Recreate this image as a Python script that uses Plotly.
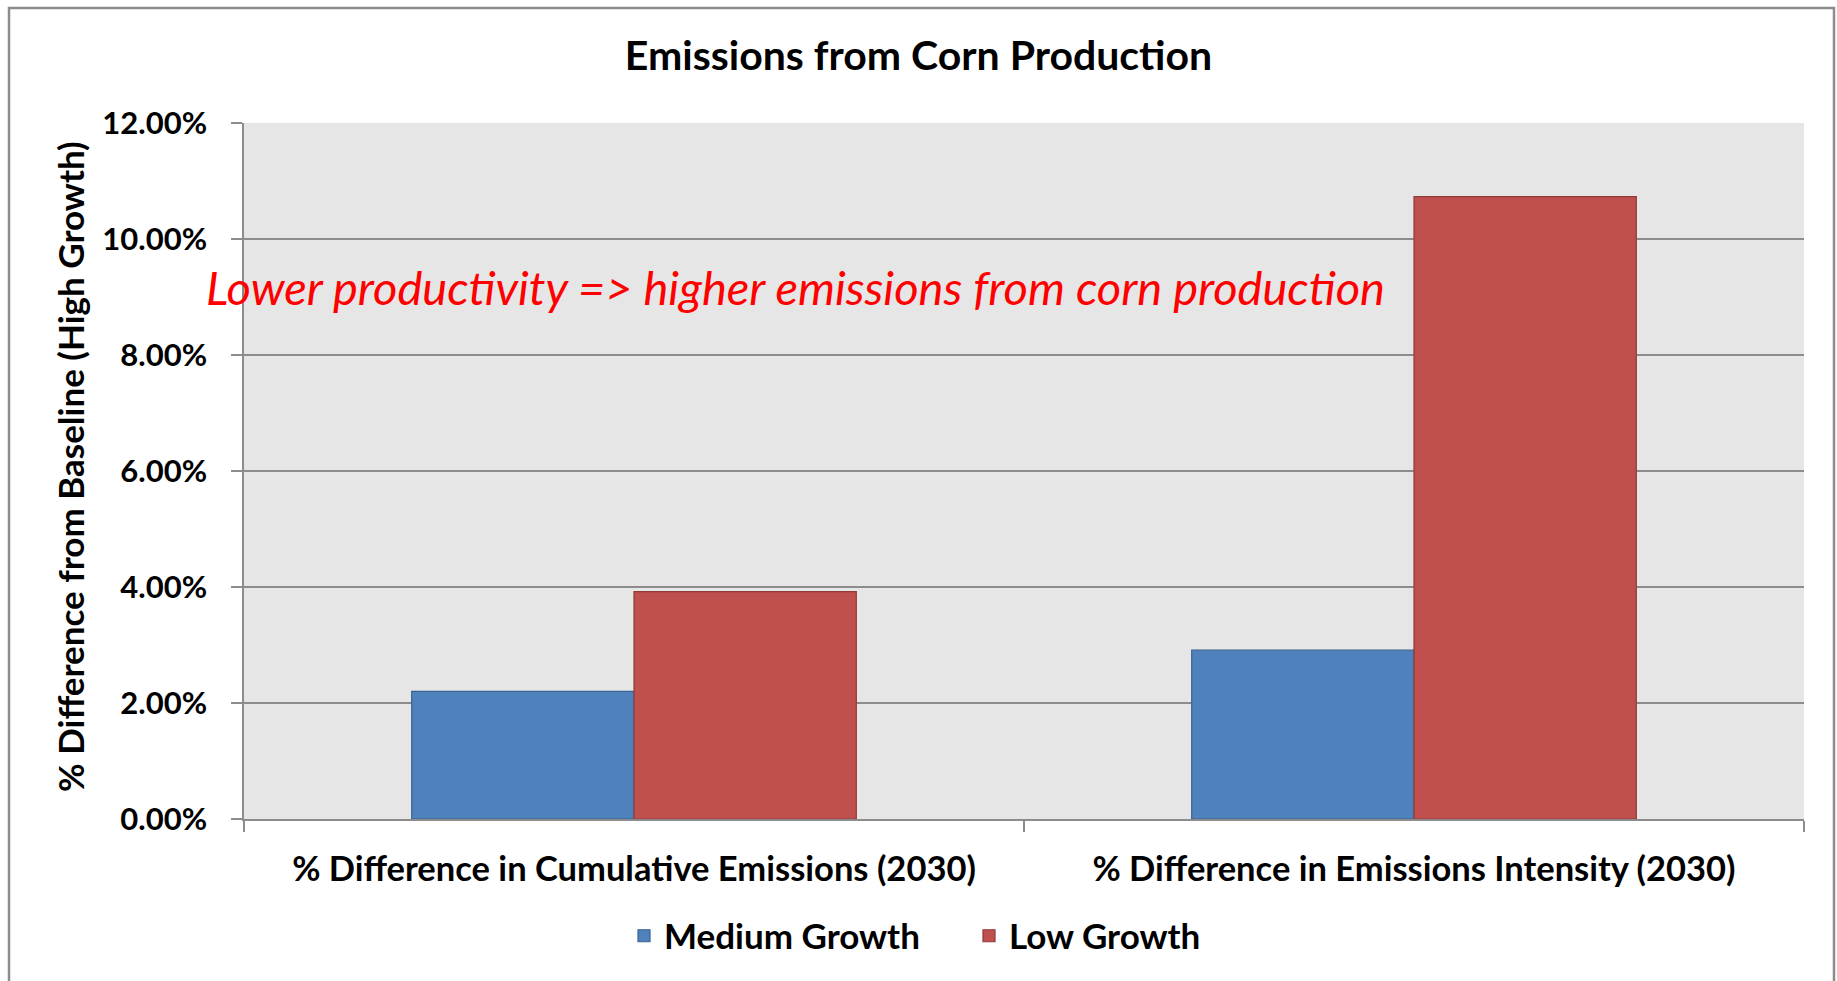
import plotly.graph_objects as go

# Scenario categories and percentage differences from the High Growth baseline
categories = [
    "% Difference in Cumulative Emissions (2030)",
    "% Difference in Emissions Intensity (2030)",
]
medium_growth = [0.0220, 0.0291]
low_growth = [0.0392, 0.1073]

y_ticks = [0.0, 0.02, 0.04, 0.06, 0.08, 0.10, 0.12]

FONT = "Lato"
W, H = 1837, 981
L, R, T, B = 244, 33, 123, 162
plot_w = W - L - R
plot_h = H - T - B


def px_to_paper_x(px):
    return (px - L) / plot_w


def px_to_paper_y(py):
    return (H - B - py) / plot_h


fig = go.Figure()
fig.add_trace(go.Bar(
    name="Medium Growth", x=categories, y=medium_growth,
    marker=dict(color="#4f81bd", line=dict(color="#3b6291", width=1.2)),
))
fig.add_trace(go.Bar(
    name="Low Growth", x=categories, y=low_growth,
    marker=dict(color="#c0504d", line=dict(color="#8e3a38", width=1.2)),
))

fig.update_layout(
    width=W, height=H,
    margin=dict(l=L, r=R, t=T, b=B, autoexpand=False),
    paper_bgcolor="white",
    plot_bgcolor="#e6e6e6",
    barmode="group",
    bargap=0.43,
    bargroupgap=0,
    font=dict(family=FONT, color="black"),
    title=dict(
        text="<b>Emissions from Corn Production</b>",
        x=0.5, xref="container", xanchor="center",
        y=1 - 56 / H, yref="container", yanchor="middle",
        font=dict(family=FONT, size=41, color="black"),
    ),
    showlegend=True,
    legend=dict(
        orientation="h",
        x=624 / W, xref="container", xanchor="left",
        y=1 - 936 / H, yref="container", yanchor="middle",
        font=dict(family=FONT, size=35, color="black", weight="bold"),
        bgcolor="rgba(0,0,0,0)",
        entrywidth=300, entrywidthmode="pixels",
        itemclick=False,
    ),
    xaxis=dict(
        showgrid=False,
        showline=True, linecolor="#8c8c8c", linewidth=2,
        ticks="outside", tickson="boundaries", ticklen=11,
        tickcolor="#8c8c8c", tickwidth=1.5,
        tickfont=dict(family=FONT, size=34.5, color="black", weight="bold"),
        ticklabelstandoff=19,
    ),
    yaxis=dict(
        range=[0, 0.12],
        tickvals=y_ticks,
        tickformat=".2%",
        showgrid=True, gridcolor="#8c8c8c", gridwidth=2,
        showline=True, linecolor="#8c8c8c", linewidth=1.5,
        ticks="outside", ticklen=11, tickcolor="#8c8c8c", tickwidth=1.5,
        tickfont=dict(family=FONT, size=31, color="black", weight="bold"),
        ticklabelstandoff=18,
        zeroline=False,
    ),
)

# Vertical axis title
fig.add_annotation(
    text="<b>% Difference from Baseline (High Growth)</b>",
    xref="paper", yref="paper",
    x=px_to_paper_x(70), y=px_to_paper_y(467),
    xanchor="center", yanchor="middle",
    textangle=-90, showarrow=False,
    font=dict(family=FONT, size=35, color="black"),
)

# Callout across the plot
fig.add_annotation(
    text="<i>Lower productivity =&gt; higher emissions from corn production</i>",
    xref="paper", yref="paper",
    x=px_to_paper_x(204), y=px_to_paper_y(287),
    xanchor="left", yanchor="middle",
    showarrow=False,
    font=dict(family=FONT, size=47, color="#ff0000"),
)

# Chart-area border
fig.add_shape(
    type="rect", xref="paper", yref="paper",
    x0=px_to_paper_x(9), x1=px_to_paper_x(1834),
    y0=px_to_paper_y(1000), y1=px_to_paper_y(8),
    line=dict(color="#8c8c8c", width=2.5),
    fillcolor="rgba(0,0,0,0)", layer="above",
)

fig.write_html("out.html")
